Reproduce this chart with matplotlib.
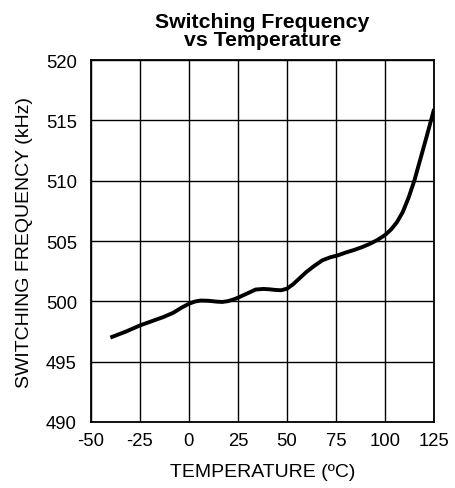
import matplotlib.pyplot as plt

# temperature (C) and switching frequency (kHz)
temp = [-40, -32, -25, -19, -13, -8, -4, 0, 3, 6, 10, 14, 17, 20, 23, 25, 29, 31, 34,
        38, 41, 44, 47, 50, 53, 56, 60, 64, 68, 72, 76, 80, 84, 88, 92, 96, 100, 103,
        106, 109, 112, 115, 118, 121, 123, 125]
freq = [497.0, 497.5, 498.0, 498.35, 498.7, 499.05, 499.45, 499.8, 499.98, 500.07,
        500.05, 499.98, 499.95, 500.02, 500.17, 500.3, 500.6, 500.75, 500.98, 501.03,
        501.0, 500.95, 500.92, 501.05, 501.4, 501.85, 502.45, 502.95, 503.4, 503.65,
        503.82, 504.05, 504.25, 504.48, 504.75, 505.08, 505.5, 505.95, 506.55, 507.4,
        508.6, 510.05, 511.8, 513.55, 514.75, 515.95]

xticks = [-50, -25, 0, 25, 50, 75, 100, 125]
yticks = [490, 495, 500, 505, 510, 515, 520]

plt.rcParams['font.family'] = ['Liberation Sans', 'DejaVu Sans']
plt.rcParams['axes.unicode_minus'] = False

fig = plt.figure(figsize=(4.56, 4.89), dpi=100)
ax = fig.add_axes([0.199, 0.135, 0.753, 0.74])
ax.plot(temp, freq, color='black', linewidth=2.8, solid_capstyle='butt')
ax.set_xlim(-50, 125)
ax.set_ylim(490, 520)
ax.set_xticks(xticks)
ax.set_yticks(yticks)
ax.tick_params(length=0, labelsize=13.3)
ax.tick_params(axis='y', pad=10)
ax.tick_params(axis='x', pad=7)
ax.grid(True, color='black', linewidth=1.0)
for s in ax.spines.values():
    s.set_linewidth(1.3)
ax.set_xlabel('TEMPERATURE (ºC)', fontsize=14, labelpad=10)
ax.set_ylabel('SWITCHING FREQUENCY (kHz)', fontsize=14, labelpad=9)
ax.set_title('Switching Frequency\nvs Temperature', fontsize=15.3, fontweight='bold',
             linespacing=0.92, pad=11)

fig.savefig('out.png', dpi=100)
